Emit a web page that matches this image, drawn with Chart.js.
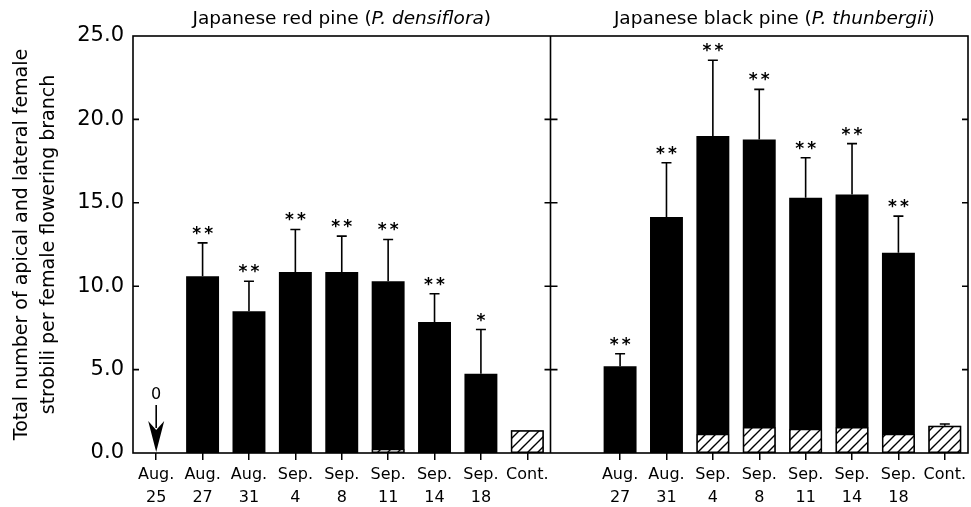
<!DOCTYPE html>
<html>
<head>
<meta charset="utf-8">
<script src="https://cdn.jsdelivr.net/npm/chart.js@4.4.1/dist/chart.umd.min.js"></script>
<style>
  html, body { margin: 0; padding: 0; background: #fff; }
  #wrap { width: 971px; height: 507px; }
</style>
</head>
<body>
<div id="wrap"><canvas id="chart" width="971" height="507"></canvas></div>
<script>
// categories (left panel = red pine, right panel = black pine)
const redLabels = [['Aug.', '25'], ['Aug.', '27'], ['Aug.', '31'], ['Sep.', '4'], ['Sep.', '8'], ['Sep.', '11'], ['Sep.', '14'], ['Sep.', '18'], ['Cont.']];
const blackLabels = ['', ['Aug.', '27'], ['Aug.', '31'], ['Sep.', '4'], ['Sep.', '8'], ['Sep.', '11'], ['Sep.', '14'], ['Sep.', '18'], ['Cont.']];

// total height of each bar (black + hatched)
const redTotal = [0, 10.6, 8.5, 10.85, 10.85, 10.3, 7.85, 4.75, 1.36];
const blackTotal = [null, 5.2, 14.15, 19.0, 18.8, 15.3, 15.5, 12.0, 1.64];

// hatched (lower) part of each bar
const redHatched = [null, null, null, 0.15, null, 0.25, 0.1, null, 1.36];
const blackHatched = [null, null, 0.15, 1.16, 1.56, 1.46, 1.56, 1.16, 1.64];

// top of the error bar
const redErrTop = [null, 12.6, 10.3, 13.4, 13.0, 12.8, 9.55, 7.4, null];
const blackErrTop = [null, 5.95, 17.4, 23.55, 21.8, 17.7, 18.55, 14.2, 1.74];

// significance marks
const redSig = ['', '**', '**', '**', '**', '**', '**', '*', ''];
const blackSig = ['', '**', '**', '**', '**', '**', '**', '**', ''];

const yTicks = [0, 5, 10, 15, 20, 25];
const panelTitles = [
  ['Japanese red pine (', 'P. densiflora', ')'],
  ['Japanese black pine (', 'P. thunbergii', ')']
];

const FONT = '"DejaVu Sans", sans-serif';

const labels = [...redLabels, ...blackLabels];
const totals = [...redTotal, ...blackTotal];
const hatched = [...redHatched, ...blackHatched];
const errTops = [...redErrTop, ...blackErrTop];
const sigs = [...redSig, ...blackSig];

function makeHatch() {
  const c = document.createElement('canvas');
  c.width = 10; c.height = 10;
  const g = c.getContext('2d');
  g.fillStyle = '#fff';
  g.fillRect(0, 0, 10, 10);
  g.strokeStyle = '#000';
  g.lineWidth = 1.4;
  g.beginPath();
  g.moveTo(0, 10); g.lineTo(10, 0);
  g.moveTo(-5, 5); g.lineTo(5, -5);
  g.moveTo(5, 15); g.lineTo(15, 5);
  g.stroke();
  return g.createPattern(c, 'repeat');
}

const decor = {
  id: 'decor',
  afterDatasetsDraw(chart) {
    const { ctx, chartArea: a, scales: { x, y } } = chart;
    const divider = (x.getPixelForValue(8) + x.getPixelForValue(9)) / 2;
    ctx.save();
    ctx.strokeStyle = '#000';
    ctx.fillStyle = '#000';

    // error bars
    ctx.lineWidth = 1.6;
    errTops.forEach((e, i) => {
      if (e == null) return;
      const cx = x.getPixelForValue(i);
      const y0 = y.getPixelForValue(totals[i]);
      const y1 = y.getPixelForValue(e);
      ctx.beginPath();
      ctx.moveTo(cx, y0); ctx.lineTo(cx, y1);
      ctx.moveTo(cx - 5, y1); ctx.lineTo(cx + 5, y1);
      ctx.stroke();
    });

    // significance asterisks, one glyph at a time
    ctx.font = 'bold 17px ' + FONT;
    ctx.textAlign = 'center';
    ctx.textBaseline = 'alphabetic';
    sigs.forEach((s, i) => {
      if (!s) return;
      const cx = x.getPixelForValue(i);
      const top = errTops[i] != null ? errTops[i] : totals[i];
      const by = y.getPixelForValue(top) - 4;
      const n = s.length;
      for (let k = 0; k < n; k++) {
        ctx.fillText('*', cx + (k - (n - 1) / 2) * 12, by);
      }
    });

    // "0" arrow at Aug. 25 (red pine)
    const ax = x.getPixelForValue(0);
    const base = y.getPixelForValue(0);
    ctx.font = '16px ' + FONT;
    ctx.textBaseline = 'middle';
    ctx.fillText('0', ax, base - 58);
    ctx.lineWidth = 1.6;
    ctx.beginPath();
    ctx.moveTo(ax, base - 48); ctx.lineTo(ax, base - 25);
    ctx.stroke();
    ctx.beginPath();
    ctx.moveTo(ax, base - 1);
    ctx.lineTo(ax - 8, base - 32);
    ctx.lineTo(ax, base - 23);
    ctx.lineTo(ax + 8, base - 32);
    ctx.closePath();
    ctx.fill();

    // frame
    ctx.lineWidth = 1.6;
    ctx.strokeRect(a.left, a.top, a.right - a.left, a.bottom - a.top);
    ctx.beginPath();
    ctx.moveTo(divider, a.top); ctx.lineTo(divider, a.bottom);
    ctx.stroke();

    // y ticks: inward on left and right, crossing at the divider
    ctx.beginPath();
    yTicks.forEach(v => {
      if (v === 0 || v === 25) return;
      const py = y.getPixelForValue(v);
      ctx.moveTo(a.left, py); ctx.lineTo(a.left + 6, py);
      ctx.moveTo(divider - 6, py); ctx.lineTo(divider + 7, py);
      ctx.moveTo(a.right - 6, py); ctx.lineTo(a.right, py);
    });
    ctx.stroke();
    ctx.restore();
  },
  afterDraw(chart) {
    const { ctx, chartArea: a, scales: { x } } = chart;
    const divider = (x.getPixelForValue(8) + x.getPixelForValue(9)) / 2;
    const centers = [(a.left + divider) / 2, (divider + a.right) / 2 + 15];
    ctx.save();
    ctx.fillStyle = '#000';
    ctx.textBaseline = 'middle';
    ctx.textAlign = 'left';
    panelTitles.forEach((parts, k) => {
      const fonts = ['18.5px ' + FONT, 'italic 18.5px ' + FONT, '18.5px ' + FONT];
      let w = 0;
      parts.forEach((p, j) => { ctx.font = fonts[j]; w += ctx.measureText(p).width; });
      let px = centers[k] - w / 2;
      parts.forEach((p, j) => {
        ctx.font = fonts[j];
        ctx.fillText(p, px, 19);
        px += ctx.measureText(p).width;
      });
    });
    ctx.restore();
  }
};

const hatch = makeHatch();

new Chart(document.getElementById('chart'), {
  type: 'bar',
  data: {
    labels: labels,
    datasets: [
      {
        label: 'hatched',
        data: hatched,
        backgroundColor: hatch,
        borderColor: '#000',
        borderWidth: 1.5,
        borderSkipped: false,
        grouped: false,
        categoryPercentage: 1,
        barPercentage: 0.71
      },
      {
        label: 'total',
        data: totals,
        backgroundColor: '#000',
        borderWidth: 0,
        grouped: false,
        categoryPercentage: 1,
        barPercentage: 0.71
      }
    ]
  },
  options: {
    responsive: false,
    animation: false,
    devicePixelRatio: 1,
    layout: { padding: { top: 36, right: 3, left: 0, bottom: 0 } },
    plugins: {
      legend: { display: false },
      tooltip: { enabled: false }
    },
    scales: {
      x: {
        offset: true,
        grid: {
          display: true,
          offset: false,
          drawOnChartArea: false,
          drawTicks: true,
          tickLength: 7,
          lineWidth: 1.5,
          color: ctx => (ctx.index === 9 ? 'rgba(0,0,0,0)' : '#000')
        },
        border: { display: false },
        ticks: {
          color: '#000',
          font: { family: FONT, size: 16, lineHeight: 1.4 },
          maxRotation: 0,
          autoSkip: false,
          padding: 4
        },
        afterFit: s => { s.height = 54; }
      },
      y: {
        min: 0,
        max: 25,
        grid: { display: false, drawTicks: false },
        border: { display: false },
        ticks: {
          stepSize: 5,
          color: '#000',
          font: { family: FONT, size: 21 },
          padding: 9,
          callback: v => v.toFixed(1)
        },
        title: {
          display: true,
          text: ['Total number of apical and lateral female', 'strobili per female flowering branch'],
          color: '#000',
          font: { family: FONT, size: 19, lineHeight: 1.4 },
          padding: { top: 9, bottom: 0 }
        },
        afterFit: s => { s.width = 133; }
      }
    }
  },
  plugins: [decor]
});
</script>
</body>
</html>
